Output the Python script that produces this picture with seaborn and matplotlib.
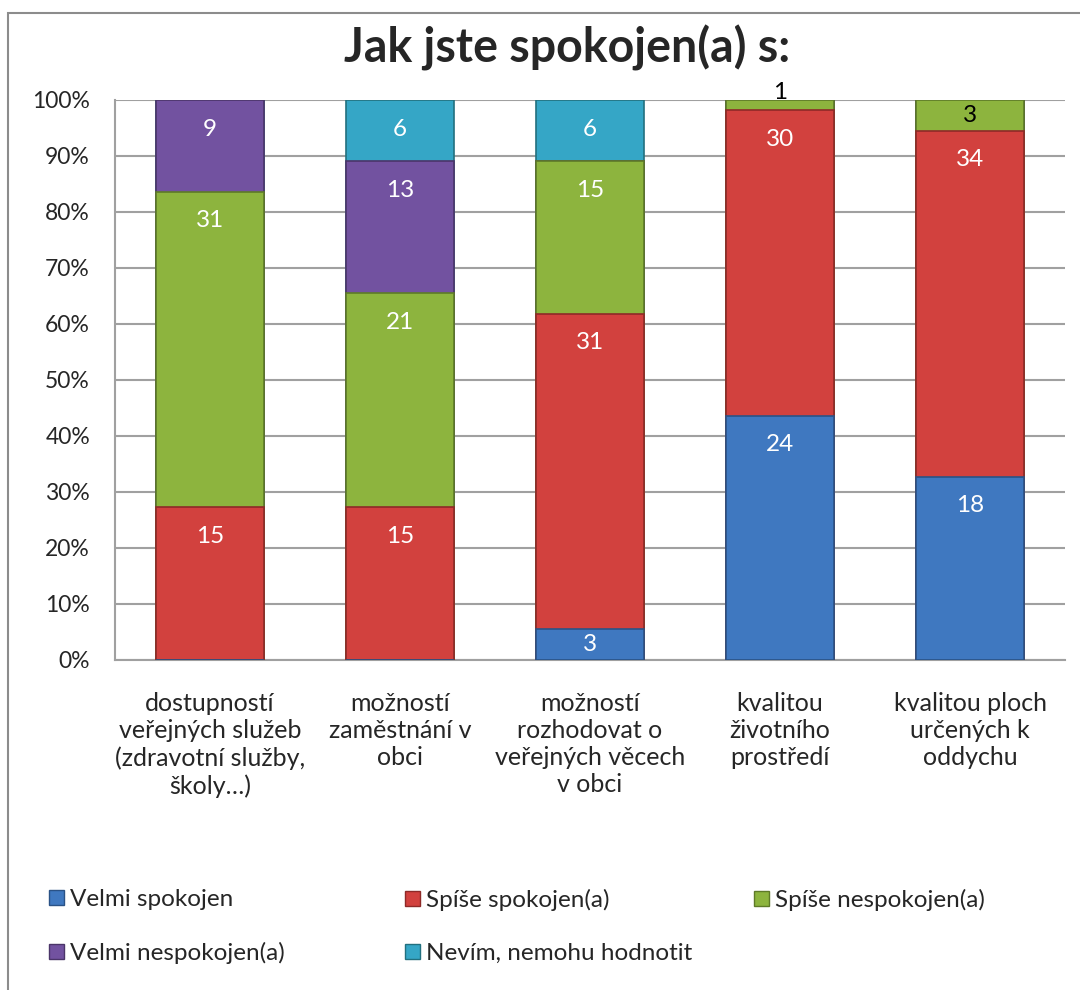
import numpy as np
import pandas as pd
import matplotlib.pyplot as plt
import matplotlib.patches as mpatches
import seaborn as sns

# ==========================================
# DATA
# ==========================================

categories = [
    "dostupností\nveřejných služeb\n(zdravotní služby,\nškoly…)",
    "možností\nzaměstnání v\nobci",
    "možností\nrozhodovat o\nveřejných věcech\nv obci",
    "kvalitou\nživotního\nprostředí",
    "kvalitou ploch\nurčených k\noddychu",
]

series_names = [
    "Velmi spokojen",
    "Spíše spokojen(a)",
    "Spíše nespokojen(a)",
    "Velmi nespokojen(a)",
    "Nevím, nemohu hodnotit",
]

velmi_spokojen = [0, 0, 3, 24, 18]
spise_spokojen = [15, 15, 31, 30, 34]
spise_nespokojen = [31, 21, 15, 1, 3]
velmi_nespokojen = [9, 13, 0, 0, 0]
nevim = [0, 6, 6, 0, 0]

colors = ["#3F78C0", "#D2413E", "#8DB43E", "#7252A0", "#35A6C6"]
edge_colors = ["#2A5286", "#8E2A28", "#5E7A28", "#4B3569", "#22707F"]

# ==========================================
# PREPARE
# ==========================================

counts = np.array([velmi_spokojen, spise_spokojen, spise_nespokojen,
                   velmi_nespokojen, nevim], dtype=float)
pct = counts / counts.sum(axis=0) * 100
cum = np.cumsum(pct, axis=0)

sns.set_style("white")
plt.rcParams["font.family"] = ["Lato", "DejaVu Sans"]

fig = plt.figure(figsize=(10.8, 9.9), dpi=100)
ax = fig.add_axes([115 / 1080, 1 - 660 / 990, 950 / 1080, 560 / 990])

# ==========================================
# STACKED BARS (overlay cumulative)
# ==========================================

for i in reversed(range(len(series_names))):
    df = pd.DataFrame({"cat": categories, "val": cum[i]})
    sns.barplot(data=df, x="cat", y="val", color=colors[i], ax=ax,
                width=0.57, saturation=1, edgecolor=edge_colors[i],
                linewidth=1.2, zorder=3)

# data labels
off = 5.2
for i in range(len(series_names)):
    for j in range(len(categories)):
        v = counts[i, j]
        if v == 0:
            continue
        top = cum[i, j]
        h = pct[i, j]
        col = "white"
        if h < 3:
            y = top + 1.4
            col = "black"
        elif h < 2 * off:
            y = top - h / 2
            if i == 2:
                col = "black"
        else:
            y = top - off
        ax.text(j, y, f"{int(v)}", ha="center", va="center",
                fontsize=17.5, color=col, zorder=5)

# ==========================================
# AXES
# ==========================================

ax.set_ylim(0, 100)
ax.set_xlim(-0.5, 4.5)
ax.set_yticks(np.arange(0, 101, 10))
ax.set_yticklabels([f"{t}%" for t in range(0, 101, 10)], fontsize=16.5)
ax.set_xlabel("")
ax.set_ylabel("")
ax.tick_params(axis="x", labelsize=18, length=0, pad=23)
ax.tick_params(axis="y", length=0, pad=18)
for lbl in ax.get_xticklabels():
    lbl.set_linespacing(1.22)
    lbl.set_va("top")

ax.yaxis.grid(True, color="#A0A0A0", linewidth=1.5, zorder=0)
ax.set_axisbelow(True)
for s in ["top", "right"]:
    ax.spines[s].set_visible(False)
for s in ["left", "bottom"]:
    ax.spines[s].set_color("#A0A0A0")
    ax.spines[s].set_linewidth(1.5)

fig.text(567 / 1080, 1 - 48 / 990, "Jak jste spokojen(a) s:",
         ha="center", va="center", fontsize=33.5, fontweight="bold")

# chart border
fig.patches.append(mpatches.Rectangle(
    (8 / 1080, -0.05), 1.2, 1 - 13 / 990 + 0.05, transform=fig.transFigure,
    fill=False, edgecolor="#8C8C8C", linewidth=1.5))

# ==========================================
# LEGEND
# ==========================================

handles = [mpatches.Patch(facecolor=colors[i], edgecolor=edge_colors[i])
           for i in range(len(series_names))]
cols = [[0, 3], [1, 4], [2]]
xs = [37, 393, 742]
for c, x in zip(cols, xs):
    fig.legend([handles[k] for k in c], [series_names[k] for k in c],
               loc="upper left", bbox_to_anchor=(x / 1080, 1 - 877 / 990),
               frameon=False, fontsize=17.5, handlelength=0.6,
               handleheight=0.6, handletextpad=0.25, labelspacing=1.3,
               borderpad=0)

fig.savefig("out.png", dpi=100)
